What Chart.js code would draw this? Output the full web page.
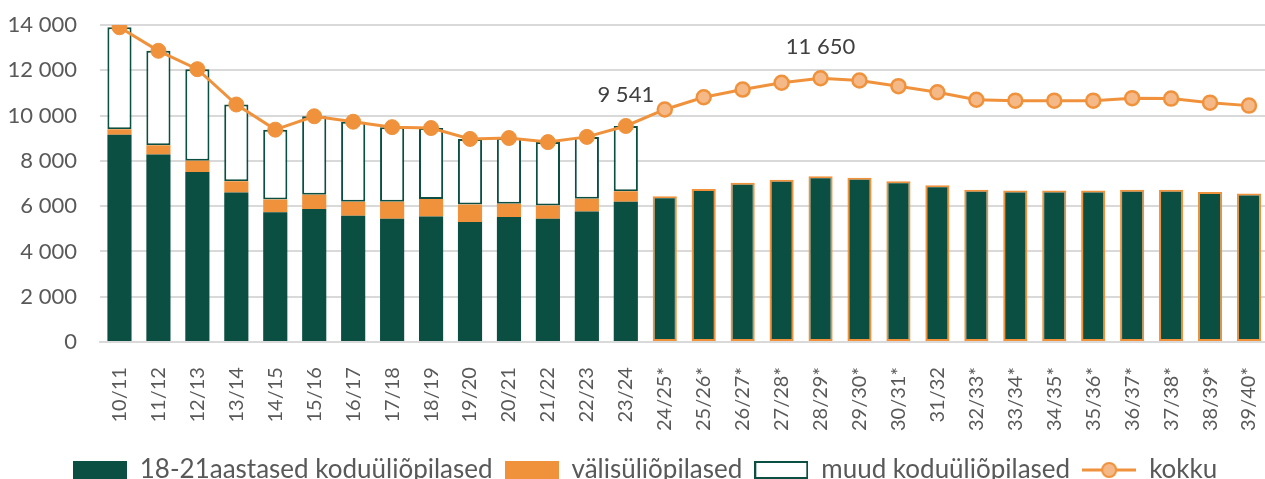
<!DOCTYPE html>
<html>
<head>
<meta charset="utf-8">
<script src="https://cdn.jsdelivr.net/npm/chart.js@4.4.1/dist/chart.umd.min.js"></script>
<style>
  html, body { margin: 0; padding: 0; background: #fff; overflow: hidden; }
  #wrap { position: relative; width: 1290px; height: 493px; }
</style>
</head>
<body>
<div id="wrap"><canvas id="myChart1"></canvas></div>
<script>
// school years; * = forecast
var years = ['10/11', '11/12', '12/13', '13/14', '14/15', '15/16', '16/17', '17/18', '18/19', '19/20',
    '20/21', '21/22', '22/23', '23/24', '24/25*', '25/26*', '26/27*', '27/28*', '28/29*', '29/30*',
    '30/31*', '31/32', '32/33*', '33/34*', '34/35*', '35/36*', '36/37*', '37/38*', '38/39*', '39/40*'];

// 18-21 year old home students
var young = [9150, 8280, 7510, 6600, 5730, 5880, 5580, 5440, 5540, 5300, 5520, 5450, 5760, 6200,
    6440, 6760, 7030, 7170, 7320, 7250, 7100, 6920, 6730, 6690, 6690, 6690, 6730, 6730, 6630, 6560];

// foreign students (only known years)
var foreign = [250, 410, 500, 500, 560, 630, 610, 750, 780, 770, 590, 580, 570, 460];

// other home students (only known years)
var other = [4500, 4170, 4040, 3390, 3090, 3460, 3540, 3300, 3130, 2900, 2900, 2800, 2730, 2881];

// total
var total = [13900, 12860, 12050, 10490, 9380, 9970, 9730, 9490, 9450, 8970, 9010, 8830, 9060, 9541,
    10270, 10810, 11150, 11450, 11650, 11550, 11300, 11030, 10700, 10660, 10660, 10660, 10770, 10750, 10570, 10440];

var yTicks = [0, 2000, 4000, 6000, 8000, 10000, 12000, 14000];
var labelled = [13, 18];

var GREEN = '#0B4F42';
var ORANGE = '#F0923C';
var LIGHT = '#F5B887';
var known = foreign.length;

function fmt(v) {
    return String(v).replace(/\B(?=(\d{3})+(?!\d))/g, ' ');
}

// legend icons
function icon(kind) {
    var c = document.createElement('canvas');
    c.width = 54; c.height = 18;
    var g = c.getContext('2d');
    if (kind == 'line') {
        g.strokeStyle = ORANGE; g.lineWidth = 3;
        g.beginPath(); g.moveTo(0, 9); g.lineTo(54, 9); g.stroke();
        g.fillStyle = LIGHT; g.lineWidth = 2;
        g.beginPath(); g.arc(27, 9, 7, 0, Math.PI * 2); g.fill(); g.stroke();
    } else if (kind == 'box') {
        g.fillStyle = '#fff'; g.fillRect(0, 0, 54, 18);
        g.strokeStyle = GREEN; g.lineWidth = 2; g.strokeRect(1, 1, 52, 16);
    } else {
        g.fillStyle = kind; g.fillRect(0, 0, 54, 18);
    }
    return c;
}
var icons = [icon(GREEN), icon(ORANGE), icon('box'), icon('line')];

var valueLabels = {
    id: 'valueLabels',
    afterDatasetsDraw: function(chart) {
        var meta = chart.getDatasetMeta(3);
        var ctx = chart.ctx;
        ctx.save();
        ctx.font = '22px Lato';
        ctx.fillStyle = '#404040';
        ctx.textAlign = 'center';
        ctx.textBaseline = 'middle';
        labelled.forEach(function(i) {
            var p = meta.data[i];
            ctx.fillText(fmt(total[i]), p.x, p.y - 31);
        });
        ctx.restore();
    }
};

var ctx = document.getElementById('myChart1').getContext('2d');

var myChart = new Chart(ctx, {
    type: 'bar',
    data: {
        labels: years,
        datasets: [{
            label: '18-21aastased koduüliõpilased',
            data: young,
            backgroundColor: GREEN,
            borderColor: years.map(function(y, i) { return i < known ? GREEN : ORANGE; }),
            borderWidth: years.map(function(y, i) { return i < known ? 0 : 2; }),
            borderSkipped: false,
            stack: 'bars',
            order: 2
        }, {
            label: 'välisüliõpilased',
            data: foreign,
            backgroundColor: ORANGE,
            borderWidth: 0,
            stack: 'bars',
            order: 2
        }, {
            label: 'muud koduüliõpilased',
            data: other,
            backgroundColor: '#fff',
            borderColor: GREEN,
            borderWidth: 2,
            borderSkipped: false,
            stack: 'bars',
            order: 2
        }, {
            type: 'line',
            label: 'kokku',
            data: total,
            borderColor: ORANGE,
            borderWidth: 3,
            pointRadius: years.map(function(y, i) { return i < known ? 7.5 : 7; }),
            pointBackgroundColor: years.map(function(y, i) { return i < known ? ORANGE : LIGHT; }),
            pointBorderColor: ORANGE,
            pointBorderWidth: years.map(function(y, i) { return i < known ? 1 : 2.5; }),
            stack: 'total',
            order: 1
        }]
    },
    options: {
        responsive: true,
        maintainAspectRatio: false,
        animation: false,
        layout: {
            autoPadding: false,
            padding: { top: 25, right: 0, left: 0, bottom: 0 }
        },
        datasets: {
            bar: { barPercentage: 0.62, categoryPercentage: 1 }
        },
        scales: {
            x: {
                stacked: true,
                afterFit: function(scale) { scale.height -= 3; },
                grid: { display: false },
                border: { color: '#D9D9D9', width: 2 },
                ticks: {
                    color: '#595959',
                    font: { family: 'Lato', size: 20 },
                    minRotation: 90,
                    maxRotation: 90,
                    autoSkip: false,
                    padding: 17
                }
            },
            y: {
                stacked: true,
                min: 0,
                max: 14000,
                afterFit: function(scale) { scale.width = 100; },
                afterBuildTicks: function(scale) {
                    scale.ticks = yTicks.map(function(v) { return { value: v }; });
                },
                grid: { color: '#D9D9D9', lineWidth: 2, drawTicks: true, tickLength: 23, tickColor: 'rgba(0,0,0,0)' },
                border: { display: false },
                ticks: {
                    color: '#595959',
                    font: { family: 'Lato', size: 22 },
                    padding: 0,
                    callback: function(v) { return fmt(v); }
                }
            }
        },
        plugins: {
            tooltip: { enabled: false },
            legend: {
                position: 'bottom',
                labels: {
                    usePointStyle: true,
                    pointStyleWidth: 54,
                    boxHeight: 18,
                    padding: 12,
                    color: '#595959',
                    font: { family: 'Lato', size: 26 },
                    generateLabels: function(chart) {
                        return chart.data.datasets.map(function(ds, i) {
                            return {
                                text: ds.label,
                                datasetIndex: i,
                                pointStyle: icons[i],
                                hidden: false,
                                fontColor: '#595959',
                                lineWidth: 0
                            };
                        });
                    }
                }
            }
        }
    },
    plugins: [valueLabels]
});
</script>
</body>
</html>
